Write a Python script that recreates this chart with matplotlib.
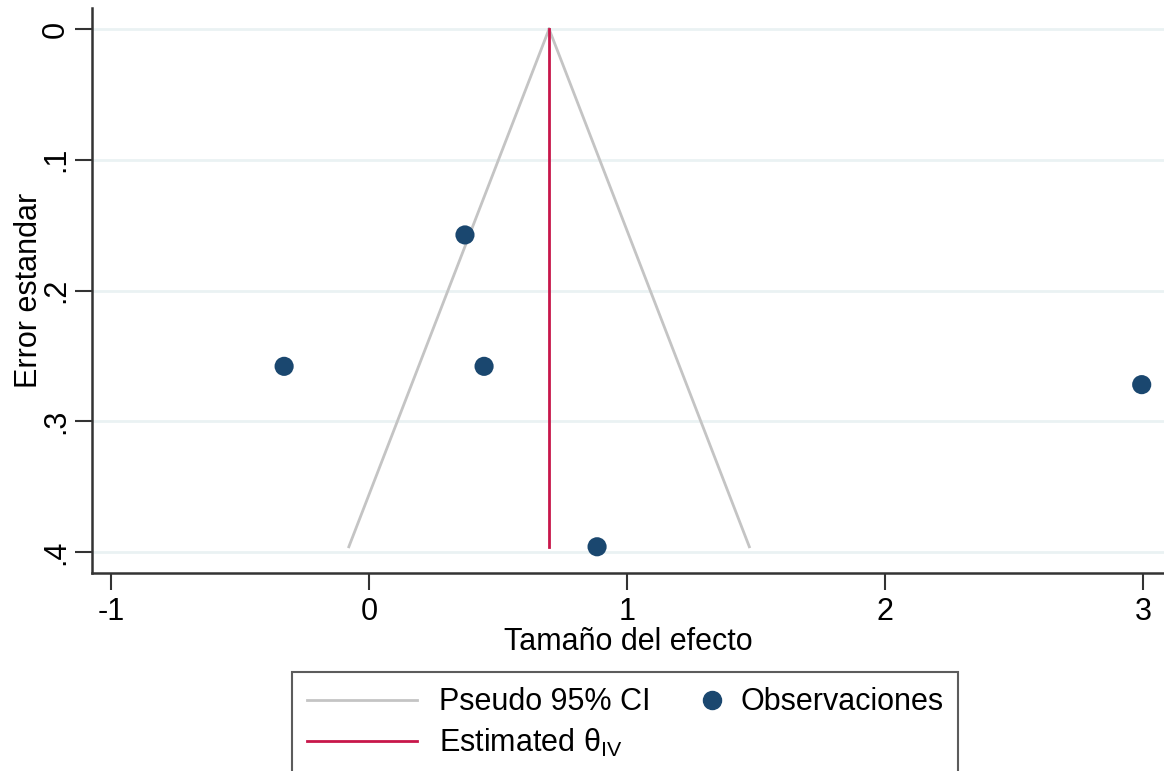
import numpy as np
import matplotlib
matplotlib.use("Agg")
import matplotlib.pyplot as plt
from matplotlib.lines import Line2D
from matplotlib.legend_handler import HandlerBase

plt.rcParams['font.family'] = ['Liberation Sans', 'DejaVu Sans']
plt.rcParams['mathtext.fontset'] = 'custom'
plt.rcParams['mathtext.rm'] = 'Liberation Sans'

# Study-level effect sizes and their standard errors
effect = [0.372, -0.329, 0.446, 2.995, 0.884]
std_err = [0.1575, 0.258, 0.258, 0.272, 0.396]
theta_iv = 0.698
x_ticks = [-1, 0, 1, 2, 3]
y_ticks = [0, 0.1, 0.2, 0.3, 0.4]
y_tick_labels = ["0", ".1", ".2", ".3", ".4"]

W, H = 1164, 771
FS = 22
fig = plt.figure(figsize=(W / 100, H / 100), dpi=100)
ax = fig.add_axes([92 / W, 1 - 573 / H, (W - 92) / W, (573 - 8) / H])

navy = "#1a476f"
cranberry = "#c8164a"
ci_gray = "#c4c4c4"
grid_col = "#eaf2f3"
axis_col = "#333333"

# Pseudo 95% confidence funnel around the pooled estimate
se_max = max(std_err)
se_line = np.array([0.0, se_max])
ax.plot(theta_iv - 1.96 * se_line, se_line, color=ci_gray, lw=2, zorder=2)
ax.plot(theta_iv + 1.96 * se_line, se_line, color=ci_gray, lw=2, zorder=2)
ax.plot([theta_iv, theta_iv], [0, se_max], color=cranberry, lw=2, zorder=3)
ax.scatter(effect, std_err, s=190, color=navy, zorder=4, edgecolors="none",
           clip_on=False)

x0 = -1 + (92 - 111) / 258.0
x1 = x0 + (W - 92) / 258.0
ax.set_xlim(x0, x1)
ax.set_ylim((573 - 29) / 1307.5, (8 - 29) / 1307.5)

ax.set_yticks(y_ticks)
ax.set_yticklabels(y_tick_labels, rotation=90, va="center")
ax.set_xticks(x_ticks)
ax.set_xticklabels([str(t) for t in x_ticks])
ax.grid(axis="y", color=grid_col, lw=2)
ax.set_axisbelow(True)

for side in ("top", "right"):
    ax.spines[side].set_visible(False)
for side in ("left", "bottom"):
    ax.spines[side].set_color(axis_col)
    ax.spines[side].set_linewidth(1.8)
ax.tick_params(axis="both", length=12, width=1.5, color=axis_col,
               labelsize=FS, pad=5)
ax.tick_params(axis="y", pad=3)

ax.set_xlabel("Tamaño del efecto", fontsize=FS, labelpad=0)
ax.set_ylabel("Error estandar", fontsize=FS, labelpad=-2)


class MarkerAtRight(HandlerBase):
    """Draws a single marker near the right end of the legend handle box."""

    def create_artists(self, legend, orig_handle, xdescent, ydescent,
                       width, height, fontsize, trans):
        m = Line2D([width - 0.2 * fontsize], [height / 2 - ydescent],
                   marker="o", ls="none", color=orig_handle.get_color(),
                   markersize=orig_handle.get_markersize(), transform=trans)
        return [m]


obs_handle = Line2D([], [], marker="o", color=navy, ls="none", markersize=13)
handles = [
    Line2D([], [], color=ci_gray, lw=2),
    Line2D([], [], color=cranberry, lw=2),
    obs_handle,
]
labels = ["Pseudo 95% CI", r"Estimated θ$_{\mathrm{IV}}$", "Observaciones"]
leg = fig.legend(handles, labels, ncol=2, loc="upper left",
                 bbox_to_anchor=(292 / W, 1 - 672 / H), fontsize=FS,
                 frameon=True, fancybox=False, edgecolor="#333333",
                 handlelength=3.6, columnspacing=-1.4, borderpad=0.5,
                 labelspacing=0.3, handletextpad=0.72, borderaxespad=0,
                 handler_map={obs_handle: MarkerAtRight()})
leg.get_frame().set_linewidth(1.5)

fig.savefig("out.png", dpi=100)
